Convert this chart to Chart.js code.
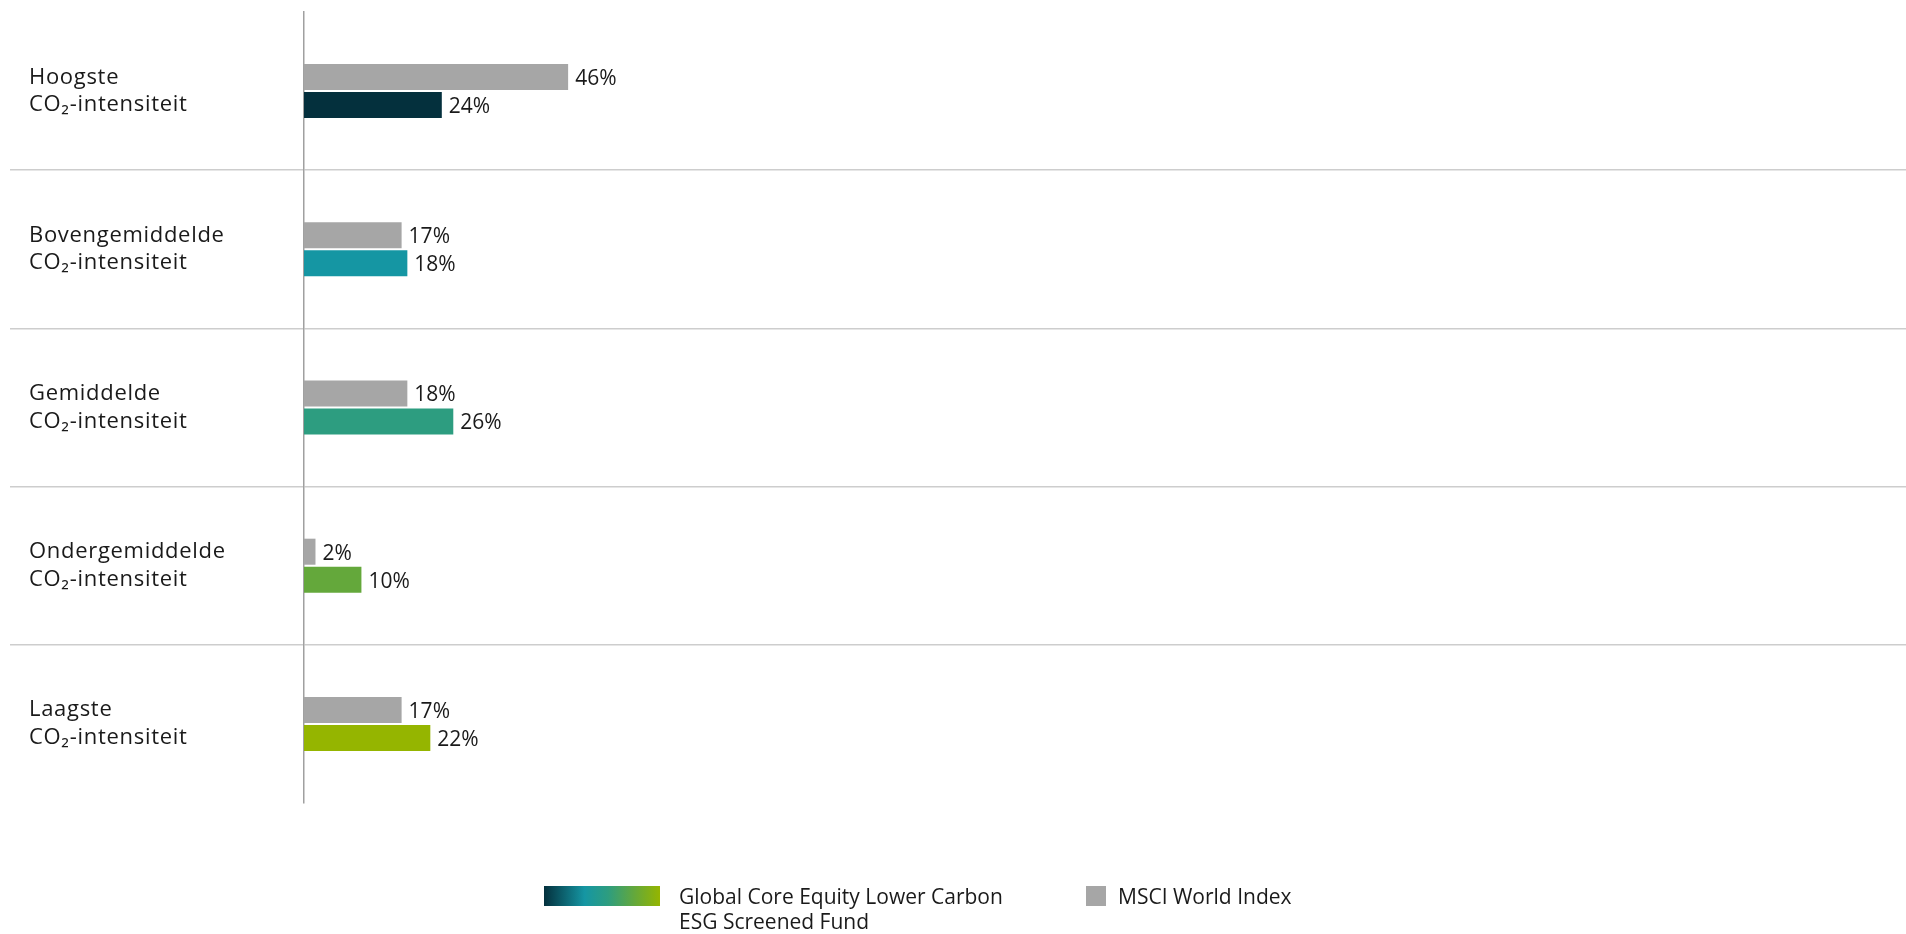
<!DOCTYPE html>
<html><head><meta charset="utf-8">
<script src="https://cdn.jsdelivr.net/npm/chart.js@4.4.1/dist/chart.umd.min.js"></script>
<style>
html,body{margin:0;padding:0;background:#fff;}
#wrap{position:relative;width:1906px;height:934px;}
#legend{position:absolute;left:0;top:0;width:1906px;height:934px;pointer-events:none;font-family:'Open Sans',sans-serif;font-size:21px;color:#1a1a1a;}
.li{position:absolute;display:flex;align-items:flex-start;}
.sw{flex:none;height:20px;}
.tx{line-height:25px;white-space:pre;margin-top:-2px;}
</style></head>
<body><div id="wrap"><canvas id="c"></canvas><div id="legend"></div></div>
<script>
const categories = [
  ["Hoogste", "CO\u2082-intensiteit"],
  ["Bovengemiddelde", "CO\u2082-intensiteit"],
  ["Gemiddelde", "CO\u2082-intensiteit"],
  ["Ondergemiddelde", "CO\u2082-intensiteit"],
  ["Laagste", "CO\u2082-intensiteit"]
];
const indexValues = [46, 17, 18, 2, 17];
const fundValues = [24, 18, 26, 10, 22];
const indexLabel = "MSCI World Index";
const fundLabel = "Global Core Equity Lower Carbon\nESG Screened Fund";
const fundColors = ["#04303d", "#1596a3", "#2d9d80", "#64a83b", "#95b500"];
const indexColor = "#a6a6a6";
const xMax = 279;

const labelSpacing = {
  id: 'labelSpacing',
  beforeDraw(chart) { chart.ctx.letterSpacing = '0.7px'; },
  beforeDatasetsDraw(chart) { chart.ctx.letterSpacing = '0px'; }
};

const valueLabels = {
  id: 'valueLabels',
  afterDatasetsDraw(chart) {
    const ctx = chart.ctx;
    ctx.save();
    ctx.letterSpacing = '0px';
    ctx.font = "21px 'Open Sans'";
    ctx.fillStyle = '#1a1a1a';
    ctx.textBaseline = 'middle';
    ctx.textAlign = 'left';
    chart.data.datasets.forEach((ds, i) => {
      chart.getDatasetMeta(i).data.forEach((bar, j) => {
        ctx.fillText(ds.data[j] + '%', bar.x + 7, bar.y + 2);
      });
    });
    ctx.restore();
  }
};

const chart = new Chart(document.getElementById('c'), {
  type: 'bar',
  data: {
    labels: categories,
    datasets: [
      { label: indexLabel, data: indexValues, backgroundColor: indexColor,
        categoryPercentage: 0.354, barPercentage: 0.93 },
      { label: fundLabel, data: fundValues, backgroundColor: fundColors,
        categoryPercentage: 0.354, barPercentage: 0.93 }
    ]
  },
  options: {
    indexAxis: 'y',
    responsive: true,
    maintainAspectRatio: false,
    animation: false,
    layout: { padding: { left: 29, top: 12, right: 0, bottom: 131 } },
    plugins: { legend: { display: false }, tooltip: { enabled: false } },
    scales: {
      x: { type: 'linear', min: 0, max: xMax, display: false },
      y: {
        position: 'left',
        border: { display: true, color: '#a0a0a0', width: 1.5 },
        grid: {
          offset: true,
          drawTicks: true,
          tickLength: 294,
          lineWidth: 1.5,
          color: (c) => (c.type === 'tick' && c.index > 0) ? '#cdcdcd' : 'rgba(0,0,0,0)'
        },
        ticks: {
          crossAlign: 'far',
          color: '#1a1a1a',
          font: { family: "'Open Sans'", size: 22, lineHeight: 1.25 }
        },
        afterFit(scale) {
          scale.width = 275;
          scale.paddingTop = 0;
          scale.paddingBottom = 0;
        }
      }
    }
  },
  plugins: [labelSpacing, valueLabels]
});

// HTML legend built from the datasets (fund first, then index)
const legendPos = [{ left: 544, top: 886, w: 116, gap: 19 }, { left: 1086, top: 886, w: 20, gap: 12 }];
const legendEl = document.getElementById('legend');
[1, 0].forEach((di, k) => {
  const ds = chart.data.datasets[di];
  const p = legendPos[k];
  const item = document.createElement('div');
  item.className = 'li';
  item.style.left = p.left + 'px';
  item.style.top = p.top + 'px';
  const sw = document.createElement('div');
  sw.className = 'sw';
  sw.style.width = p.w + 'px';
  sw.style.marginRight = p.gap + 'px';
  sw.style.background = Array.isArray(ds.backgroundColor)
    ? 'linear-gradient(to right, ' + ds.backgroundColor[0] + ', ' + ds.backgroundColor[1] + ' 35%, ' + ds.backgroundColor[2] + ' 55%, ' + ds.backgroundColor[3] + ' 78%, ' + ds.backgroundColor[4] + ')'
    : ds.backgroundColor;
  const tx = document.createElement('div');
  tx.className = 'tx';
  tx.textContent = ds.label;
  item.appendChild(sw);
  item.appendChild(tx);
  legendEl.appendChild(item);
});
</script>
</body></html>
